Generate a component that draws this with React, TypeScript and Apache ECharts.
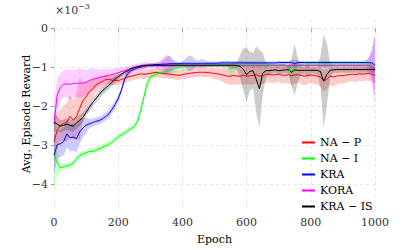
import React, { useEffect, useRef } from "react";
import * as echarts from "echarts";

// x grid: every 10 epochs from 0 to 1000
const EPOCHS = Array.from({ length: 101 }, (_, i) => i * 10);
const Y_TICKS = [0, -1, -2, -3, -4];

// NA − P (red), values ×1e-3
const NA_P = [
  -2.90, -2.60, -2.48, -2.43, -2.40, -2.25, -2.35, -2.25, -2.05, -1.85,
  -1.75, -1.62, -1.55, -1.45, -1.40, -1.36, -1.31, -1.30, -1.32, -1.33,
  -1.34, -1.30, -1.28, -1.24, -1.22, -1.20, -1.18, -1.16, -1.17, -1.16,
  -1.15, -1.13, -1.12, -1.14, -1.16, -1.15, -1.17, -1.18, -1.19, -1.20,
  -1.18, -1.16, -1.15, -1.14, -1.13, -1.12, -1.12, -1.12, -1.13, -1.14,
  -1.15, -1.16, -1.18, -1.20, -1.22, -1.22, -1.20, -1.22, -1.22, -1.20,
  -1.22, -1.21, -1.20, -1.18, -1.22, -1.20, -1.18, -1.17, -1.19, -1.18,
  -1.17, -1.19, -1.20, -1.18, -1.21, -1.19, -1.18, -1.20, -1.22, -1.20,
  -1.19, -1.20, -1.22, -1.24, -1.34, -1.30, -1.22, -1.24, -1.22, -1.20,
  -1.21, -1.19, -1.18, -1.17, -1.18, -1.16, -1.17, -1.16, -1.15, -1.17,
  -1.20,
];
const NA_P_SPREAD = [
  0.60, 0.45, 0.40, 0.45, 0.50, 0.55, 0.50, 0.60, 0.80, 0.45,
  0.35, 0.30, 0.25, 0.20, 0.18, 0.15, 0.13, 0.12, 0.12, 0.12,
  0.12, 0.12, 0.12, 0.12, 0.12, 0.12, 0.12, 0.12, 0.12, 0.12,
  0.12, 0.12, 0.12, 0.12, 0.12, 0.12, 0.12, 0.12, 0.12, 0.12,
  0.12, 0.12, 0.12, 0.12, 0.12, 0.12, 0.12, 0.12, 0.12, 0.12,
  0.14, 0.15, 0.16, 0.18, 0.20, 0.22, 0.24, 0.22, 0.22, 0.24,
  0.22, 0.22, 0.24, 0.22, 0.24, 0.22, 0.20, 0.20, 0.22, 0.20,
  0.20, 0.22, 0.20, 0.22, 0.24, 0.22, 0.20, 0.22, 0.24, 0.22,
  0.20, 0.22, 0.22, 0.24, 0.28, 0.26, 0.22, 0.24, 0.22, 0.20,
  0.20, 0.20, 0.18, 0.18, 0.20, 0.18, 0.18, 0.18, 0.18, 0.20,
  0.20,
];

// NA − I (green)
const NA_I = [
  -3.20, -3.45, -3.57, -3.55, -3.52, -3.49, -3.45, -3.35, -3.25, -3.22,
  -3.18, -3.15, -3.15, -3.12, -3.08, -3.05, -3.01, -2.97, -2.92, -2.85,
  -2.78, -2.72, -2.68, -2.62, -2.56, -2.52, -2.38, -2.10, -1.75, -1.42,
  -1.25, -1.20, -1.16, -1.14, -1.12, -1.10, -1.07, -1.05, -1.02, -0.99,
  -0.98, -0.97, -0.96, -0.96, -0.95, -0.95, -0.94, -0.94, -0.93, -0.93,
  -0.93, -0.92, -0.92, -0.91, -0.92, -1.04, -1.00, -0.94, -0.91, -0.92,
  -0.92, -0.92, -0.92, -0.91, -0.92, -0.92, -0.92, -0.92, -0.92, -0.93,
  -0.93, -0.92, -0.93, -0.98, -1.14, -1.00, -0.93, -0.92, -0.91, -0.91,
  -0.91, -0.91, -0.91, -0.91, -0.91, -0.91, -0.91, -0.91, -0.91, -0.91,
  -0.91, -0.91, -0.91, -0.91, -0.91, -0.91, -0.91, -0.91, -0.91, -0.91,
  -0.91,
];
const NA_I_SPREAD = [
  1.00, 0.30, 0.10, 0.08, 0.08, 0.08, 0.08, 0.08, 0.08, 0.08,
  0.08, 0.08, 0.08, 0.08, 0.08, 0.08, 0.08, 0.08, 0.08, 0.08,
  0.08, 0.08, 0.08, 0.08, 0.08, 0.08, 0.10, 0.12, 0.12, 0.12,
  0.10, 0.08, 0.06, 0.06, 0.06, 0.06, 0.06, 0.08, 0.10, 0.08,
  0.10, 0.08, 0.06, 0.06, 0.06, 0.06, 0.06, 0.06, 0.06, 0.06,
  0.06, 0.06, 0.06, 0.08, 0.12, 0.20, 0.15, 0.08, 0.05, 0.05,
  0.05, 0.05, 0.05, 0.05, 0.05, 0.05, 0.05, 0.05, 0.05, 0.05,
  0.05, 0.05, 0.05, 0.10, 0.20, 0.15, 0.08, 0.05, 0.05, 0.05,
  0.05, 0.05, 0.05, 0.05, 0.05, 0.05, 0.05, 0.05, 0.05, 0.05,
  0.05, 0.05, 0.05, 0.05, 0.05, 0.05, 0.05, 0.05, 0.05, 0.05,
  0.05,
];

// KRA (blue)
const KRA = [
  -3.25, -2.98, -2.95, -2.90, -2.70, -2.80, -2.78, -2.82, -2.65, -2.55,
  -2.48, -2.44, -2.41, -2.38, -2.36, -2.32, -2.26, -2.20, -2.08, -1.95,
  -1.80, -1.58, -1.30, -1.15, -1.08, -1.04, -1.01, -0.99, -0.97, -0.95,
  -0.94, -0.93, -0.92, -0.92, -0.91, -0.91, -0.90, -0.90, -0.90, -0.90,
  -0.89, -0.89, -0.89, -0.89, -0.89, -0.89, -0.89, -0.89, -0.89, -0.89,
  -0.89, -0.89, -0.88, -0.88, -0.88, -0.88, -0.88, -0.88, -0.88, -0.88,
  -0.88, -0.88, -0.88, -0.88, -0.88, -0.88, -0.88, -0.88, -0.88, -0.88,
  -0.87, -0.87, -0.87, -0.87, -0.87, -0.90, -0.87, -0.87, -0.87, -0.87,
  -0.87, -0.87, -0.87, -0.87, -0.87, -0.87, -0.87, -0.87, -0.87, -0.87,
  -0.87, -0.87, -0.87, -0.87, -0.87, -0.87, -0.87, -0.87, -0.87, -0.88,
  -0.95,
];
const KRA_SPREAD = [
  0.50, 0.35, 0.35, 0.35, 0.35, 0.35, 0.35, 0.35, 0.30, 0.25,
  0.20, 0.12, 0.10, 0.10, 0.10, 0.10, 0.10, 0.10, 0.10, 0.10,
  0.10, 0.10, 0.08, 0.08, 0.06, 0.05, 0.05, 0.05, 0.05, 0.05,
  0.05, 0.05, 0.05, 0.06, 0.10, 0.18, 0.20, 0.12, 0.06, 0.05,
  0.05, 0.12, 0.20, 0.18, 0.10, 0.06, 0.12, 0.08, 0.05, 0.05,
  0.05, 0.05, 0.05, 0.05, 0.05, 0.05, 0.05, 0.05, 0.05, 0.05,
  0.04, 0.04, 0.04, 0.04, 0.04, 0.04, 0.04, 0.04, 0.04, 0.04,
  0.04, 0.04, 0.04, 0.04, 0.06, 0.10, 0.05, 0.04, 0.04, 0.04,
  0.04, 0.04, 0.04, 0.04, 0.04, 0.04, 0.04, 0.04, 0.04, 0.04,
  0.04, 0.04, 0.04, 0.04, 0.04, 0.04, 0.05, 0.06, 0.10, 0.30,
  0.80,
];

// KORA (magenta)
const KORA = [
  -2.45, -1.70, -1.50, -1.42, -1.42, -1.43, -1.41, -1.40, -1.40, -1.40,
  -1.38, -1.33, -1.30, -1.28, -1.26, -1.24, -1.22, -1.20, -1.18, -1.16,
  -1.13, -1.10, -1.08, -1.05, -1.02, -1.00, -0.98, -0.97, -0.96, -0.95,
  -0.95, -0.95, -0.95, -0.95, -0.95, -0.95, -0.95, -0.95, -0.95, -0.95,
  -0.95, -0.95, -0.95, -0.95, -0.95, -0.95, -0.95, -0.95, -0.95, -0.95,
  -0.95, -0.95, -0.95, -0.95, -0.95, -0.95, -0.95, -0.95, -0.95, -0.95,
  -0.95, -0.95, -0.95, -0.95, -0.95, -0.95, -0.95, -0.95, -0.95, -0.95,
  -0.95, -0.95, -0.95, -0.95, -0.95, -0.95, -0.95, -0.95, -0.95, -0.95,
  -0.95, -0.95, -0.95, -0.95, -0.95, -0.95, -0.95, -0.95, -0.95, -0.95,
  -0.95, -0.95, -0.95, -0.95, -0.95, -0.95, -0.95, -0.95, -0.95, -0.96,
  -1.05,
];
const KORA_SPREAD = [
  0.50, 0.40, 0.35, 0.35, 0.35, 0.38, 0.35, 0.35, 0.38, 0.35,
  0.32, 0.30, 0.28, 0.25, 0.22, 0.20, 0.18, 0.16, 0.15, 0.14,
  0.12, 0.10, 0.10, 0.08, 0.08, 0.08, 0.08, 0.08, 0.10, 0.08,
  0.06, 0.06, 0.08, 0.12, 0.20, 0.28, 0.25, 0.12, 0.06, 0.05,
  0.05, 0.05, 0.05, 0.05, 0.05, 0.05, 0.05, 0.05, 0.05, 0.05,
  0.04, 0.04, 0.04, 0.04, 0.04, 0.04, 0.04, 0.04, 0.04, 0.04,
  0.04, 0.04, 0.04, 0.04, 0.04, 0.04, 0.04, 0.04, 0.04, 0.04,
  0.04, 0.04, 0.04, 0.04, 0.04, 0.04, 0.04, 0.04, 0.04, 0.04,
  0.04, 0.04, 0.04, 0.04, 0.04, 0.04, 0.04, 0.04, 0.04, 0.04,
  0.04, 0.04, 0.04, 0.04, 0.04, 0.04, 0.05, 0.08, 0.20, 0.40,
  0.90,
];

// KRA − IS (black)
const KRA_IS = [
  -2.40, -2.45, -2.50, -2.48, -2.45, -2.48, -2.50, -2.42, -2.35, -2.28,
  -2.15, -2.02, -1.90, -1.80, -1.70, -1.60, -1.53, -1.46, -1.38, -1.30,
  -1.24, -1.17, -1.12, -1.08, -1.03, -1.00, -0.98, -0.96, -0.95, -0.94,
  -0.94, -0.94, -0.94, -0.94, -0.94, -0.94, -0.94, -0.94, -0.94, -0.94,
  -0.94, -0.94, -0.94, -0.94, -0.94, -0.94, -0.94, -0.94, -0.94, -0.94,
  -0.94, -0.94, -0.94, -0.94, -0.94, -0.94, -0.94, -0.95, -0.97, -1.05,
  -1.18, -1.10, -1.08, -1.30, -1.55, -1.15, -1.08, -1.08, -1.07, -1.06,
  -1.08, -1.07, -1.06, -1.05, -1.12, -1.06, -1.07, -1.07, -1.07, -1.07,
  -1.07, -1.07, -1.07, -1.10, -1.35, -1.18, -1.07, -1.06, -1.05, -1.05,
  -1.05, -1.05, -1.05, -1.05, -1.05, -1.05, -1.05, -1.05, -1.05, -1.05,
  -1.05,
];
const KRA_IS_SPREAD = [
  0.25, 0.20, 0.15, 0.15, 0.15, 0.15, 0.15, 0.15, 0.15, 0.12,
  0.10, 0.10, 0.10, 0.10, 0.10, 0.10, 0.10, 0.10, 0.10, 0.10,
  0.08, 0.06, 0.05, 0.05, 0.04, 0.04, 0.04, 0.04, 0.04, 0.04,
  0.04, 0.04, 0.04, 0.04, 0.04, 0.04, 0.04, 0.04, 0.04, 0.04,
  0.04, 0.04, 0.04, 0.04, 0.04, 0.04, 0.04, 0.04, 0.04, 0.04,
  0.04, 0.04, 0.04, 0.04, 0.04, 0.06, 0.08, 0.10, 0.30, 0.55,
  0.70, 0.50, 0.45, 0.85, 1.00, 0.55, 0.20, 0.10, 0.08, 0.08,
  0.10, 0.08, 0.08, 0.10, 0.35, 0.65, 0.30, 0.10, 0.08, 0.20,
  0.08, 0.08, 0.10, 0.40, 1.20, 0.80, 0.20, 0.08, 0.08, 0.08,
  0.08, 0.08, 0.08, 0.08, 0.08, 0.08, 0.08, 0.08, 0.08, 0.08,
  0.08,
];

const SERIES = [
  { name: "NA − P", mean: NA_P, spread: NA_P_SPREAD, color: "#ff0000", band: "rgba(255,0,0,0.2)" },
  { name: "NA − I", mean: NA_I, spread: NA_I_SPREAD, color: "#00ff00", band: "rgba(0,255,0,0.2)" },
  { name: "KRA", mean: KRA, spread: KRA_SPREAD, color: "#0000ff", band: "rgba(0,0,255,0.2)" },
  { name: "KORA", mean: KORA, spread: KORA_SPREAD, color: "#ff00ff", band: "rgba(255,0,255,0.2)" },
  { name: "KRA − IS", mean: KRA_IS, spread: KRA_IS_SPREAD, color: "#000000", band: "rgba(0,0,0,0.2)" },
];

const FONT = "DejaVu Serif";
const FS = 11;

export default function App() {
  const ref = useRef<HTMLDivElement>(null);
  useEffect(() => {
    document.body.style.margin = "0";
    if (!ref.current) return;
    const chart = echarts.init(ref.current, null, { renderer: "svg" });
    const bandSeries = SERIES.map((s, k) => ({
      type: "custom",
      name: "band_" + k,
      silent: true,
      clip: true,
      z: 1,
      encode: { x: 0, y: 1 },
      data: [[EPOCHS[0], s.mean[0]]],
      renderItem: (params: any, api: any) => {
        const pts: number[][] = [];
        for (let i = 0; i < EPOCHS.length; i++) {
          pts.push(api.coord([EPOCHS[i], s.mean[i] + s.spread[i]]));
        }
        for (let i = EPOCHS.length - 1; i >= 0; i--) {
          pts.push(api.coord([EPOCHS[i], s.mean[i] - s.spread[i]]));
        }
        return {
          type: "polygon",
          shape: { points: pts },
          style: { fill: s.band, stroke: "none" },
          silent: true,
        };
      },
    }));
    const lineSeries = SERIES.map((s) => ({
      type: "line",
      name: s.name,
      data: EPOCHS.map((e, i) => [e, s.mean[i]]),
      symbol: "none",
      lineStyle: { color: s.color, width: 1 },
      itemStyle: { color: s.color },
      z: 3,
    }));
    chart.setOption({
      animation: false,
      backgroundColor: "#ffffff",
      textStyle: { fontFamily: FONT },
      grid: { left: 54, right: 40, top: 20, bottom: 40, containLabel: false },
      legend: {
        data: SERIES.map((s) => s.name),
        orient: "vertical",
        left: 297,
        top: 131,
        itemWidth: 13,
        itemHeight: 2,
        itemGap: 3,
        icon: "rect",
        textStyle: { fontFamily: FONT, fontSize: FS, color: "#000", lineHeight: 13 },
      },
      xAxis: {
        type: "value",
        min: 0,
        max: 1000,
        interval: 200,
        name: "Epoch",
        nameLocation: "middle",
        nameGap: 26,
        nameMoveOverlap: false,
        nameTextStyle: { fontFamily: FONT, fontSize: FS, color: "#000" },
        axisLine: { show: false },
        axisTick: { show: true, length: 3, lineStyle: { color: "#999" } },
        axisLabel: {
          fontFamily: FONT,
          fontSize: FS,
          color: "#333",
          margin: 9,
          formatter: (v: number) => String(v),
        },
        splitLine: { show: true, lineStyle: { color: "#e0e0e0", type: [3, 3], width: 0.8 } },
      },
      yAxis: {
        type: "value",
        min: -4.6,
        max: 0.22,
        name: "Avg. Episode Reward",
        nameLocation: "middle",
        nameGap: 22,
        nameMoveOverlap: false,
        nameRotate: 90,
        nameTextStyle: { fontFamily: FONT, fontSize: FS, color: "#000" },
        axisLine: { show: false },
        axisTick: { show: true, length: 3, customValues: Y_TICKS, lineStyle: { color: "#999" } },
        axisLabel: {
          fontFamily: FONT,
          fontSize: FS,
          color: "#333",
          margin: 6,
          customValues: Y_TICKS,
          formatter: (v: number) => (v < 0 ? "−" + Math.abs(v) : String(v)),
        },
        splitLine: { show: true, lineStyle: { color: "#e0e0e0", type: [3, 3], width: 0.8 } },
      },
      graphic: [
        { type: "text", left: 55, top: 5, style: { text: "×10", fontFamily: FONT, fontSize: FS, fill: "#333" } },
        { type: "text", left: 78, top: 2, style: { text: "−3", fontFamily: FONT, fontSize: 8, fill: "#333" } },
      ],
      series: [...bandSeries, ...lineSeries],
    });
    return () => chart.dispose();
  }, []);
  return <div ref={ref} style={{ width: 415, height: 250 }} />;
}
